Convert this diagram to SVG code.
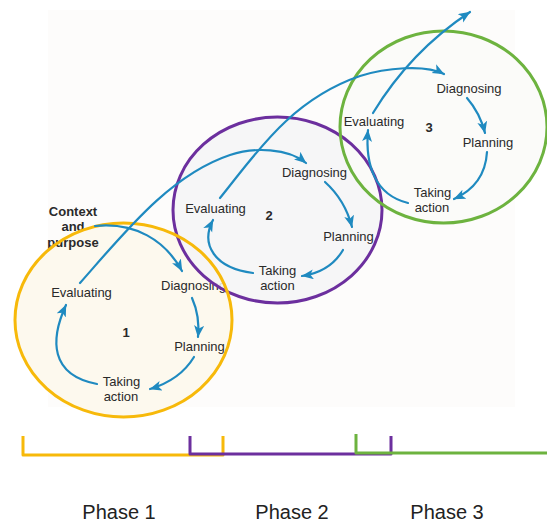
<svg xmlns="http://www.w3.org/2000/svg" width="547" height="524" viewBox="0 0 547 524">
  <style>
    .lbl { font-family: "Liberation Sans", Arial, sans-serif; font-size: 13px; fill: #2a2a2a; text-anchor: middle; }
    .bold { font-weight: bold; }
    .phase { font-family: "Liberation Sans", Arial, sans-serif; font-size: 20px; fill: #222; text-anchor: middle; }
    .flow { fill: none; stroke: #1f8ac0; stroke-width: 2.2; stroke-linecap: round; marker-end: url(#head); }
    .ring { fill: none; stroke-width: 3; }
    .bracket { fill: none; stroke-width: 3; stroke-linejoin: round; }
  </style>
  <defs>
    <marker id="head" markerUnits="userSpaceOnUse" markerWidth="13" markerHeight="11" refX="11.5" refY="5" orient="auto">
      <path d="M0,0 L12,5 L0,10 L3,5 Z" fill="#1f8ac0"/>
    </marker>
    <ellipse id="shape1" cx="123.5" cy="320" rx="108.5" ry="97"/>
    <ellipse id="shape2" cx="277.5" cy="210" rx="104.5" ry="93"/>
    <ellipse id="shape3" cx="443.5" cy="127" rx="103.5" ry="96"/>
  </defs>

  <rect x="0" y="0" width="547" height="524" fill="#ffffff"/>
  <rect x="48" y="10" width="467" height="397" fill="#fdfcfb"/>

  <!-- cycle 1 -->
  <g id="cycle1">
    <use href="#shape1" fill="#fdf9ee"/>
    <text class="lbl bold" x="73" y="216">Context</text>
    <text class="lbl bold" x="73" y="231">and</text>
    <text class="lbl bold" x="73" y="247">purpose</text>
    <text class="lbl" x="81.5" y="297">Evaluating</text>
    <text class="lbl" x="161" y="290" style="text-anchor:start">Diagnosing</text>
    <text class="lbl bold" x="126" y="337">1</text>
    <text class="lbl" x="199.5" y="351">Planning</text>
    <text class="lbl" x="121.5" y="386">Taking</text>
    <text class="lbl" x="121" y="401">action</text>
  </g>

  <!-- cycle 2 -->
  <g id="cycle2">
    <use href="#shape2" fill="#f4f4f6" fill-opacity="0.85"/>
    <text class="lbl" x="314.5" y="177">Diagnosing</text>
    <text class="lbl" x="215.5" y="213">Evaluating</text>
    <text class="lbl bold" x="269" y="220">2</text>
    <text class="lbl" x="348.5" y="241">Planning</text>
    <text class="lbl" x="277.5" y="275">Taking</text>
    <text class="lbl" x="277.5" y="290">action</text>
  </g>

  <!-- cycle 3 -->
  <g id="cycle3">
    <use href="#shape3" fill="#fafaf8" fill-opacity="0.85"/>
    <text class="lbl" x="469" y="93">Diagnosing</text>
    <text class="lbl" x="374" y="126">Evaluating</text>
    <text class="lbl bold" x="429" y="132">3</text>
    <text class="lbl" x="488" y="147">Planning</text>
    <text class="lbl" x="432.5" y="197">Taking</text>
    <text class="lbl" x="432" y="212">action</text>
  </g>

  <!-- cycle outlines, drawn over the fills and labels -->
  <g id="outlines">
    <use href="#shape2" class="ring" stroke="#6c2f9e"/>
    <use href="#shape1" class="ring" stroke="#f7b90a"/>
    <use href="#shape3" class="ring" stroke="#6db33f"/>
  </g>

  <!-- flow arrows -->
  <g id="connectors">
    <path class="flow" d="M95,226 C135,222 165,240 182,271"/>
    <path class="flow" d="M192,298 Q200,316 198,337"/>
    <path class="flow" d="M194,357 Q180,380 150,389"/>
    <path class="flow" d="M97,384 C50,375 50,340 66,305"/>
    <path class="flow" d="M80,283 C125,232 170,175 230,155 C254,147 288,148 306,163"/>

    <path class="flow" d="M325,182 Q345,200 352,227"/>
    <path class="flow" d="M343,250 Q330,272 302,276"/>
    <path class="flow" d="M253,273 C215,268 200,245 213,220"/>
    <path class="flow" d="M220,198 C255,155 290,100 360,76 C385,68 425,64 444,74"/>

    <path class="flow" d="M467,98 Q480,113 485,133"/>
    <path class="flow" d="M487,152 Q485,185 454,199"/>
    <path class="flow" d="M408,203 C375,195 365,165 368,130"/>
    <path class="flow" d="M373,113 C390,85 420,45 470,12"/>
  </g>

  <!-- phase brackets -->
  <g id="phase1">
    <path class="bracket" stroke="#f7b90a" d="M23,436 V455 H223 V436"/>
    <text class="phase" x="119" y="519">Phase 1</text>
  </g>
  <g id="phase2">
    <path class="bracket" stroke="#6c2f9e" d="M190,436 V454 H391 V436"/>
    <text class="phase" x="292" y="519">Phase 2</text>
  </g>
  <g id="phase3">
    <path class="bracket" stroke="#6db33f" d="M356,434 V453 H547"/>
    <text class="phase" x="447" y="519">Phase 3</text>
  </g>
</svg>
